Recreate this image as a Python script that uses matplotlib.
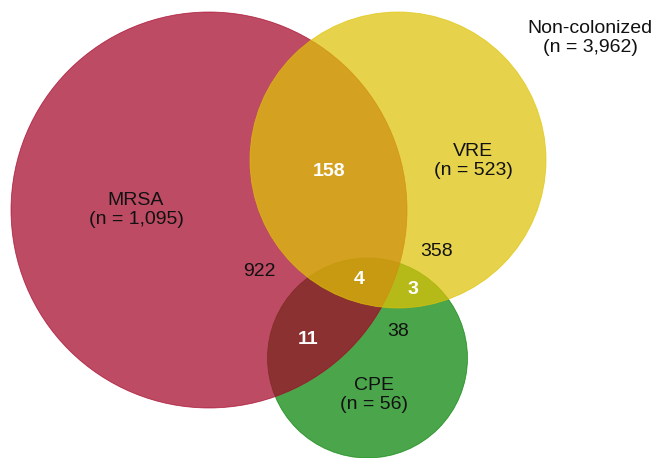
import matplotlib.pyplot as plt
from matplotlib.patches import Circle

# groups and counts
groups = ['MRSA', 'VRE', 'CPE']
group_n = ['1,095', '523', '56']
non_colonized_n = '3,962'

# region counts: only MRSA, MRSA&VRE, only VRE, MRSA&VRE&CPE, VRE&CPE, MRSA&CPE, only CPE
region_keys = ['M', 'MV', 'V', 'MVC', 'VC', 'MC', 'C']
region_counts = [922, 158, 358, 4, 3, 11, 38]


def main():
    plt.rcParams['font.family'] = ['Liberation Sans', 'DejaVu Sans']
    fig = plt.figure(figsize=(6.55, 4.58), dpi=100)
    ax = fig.add_axes([0, 0, 1, 1])
    ax.set_xlim(0, 655)
    ax.set_ylim(458, 0)
    ax.set_aspect('equal')
    ax.axis('off')

    # circle layout (pixel units), drawing order green -> red -> yellow
    layout = {
        'CPE': ((367.5, 358), 100, '#068306', 1),
        'MRSA': ((209, 210), 198, '#A50528', 2),
        'VRE': ((398, 160), 148, '#DFC306', 3),
    }
    for name in groups:
        (cx, cy), r, col, z = layout[name]
        ax.add_patch(Circle((cx, cy), r, facecolor=col, edgecolor=col,
                            alpha=0.72, lw=0.6, zorder=z))

    fs = 14
    label_pos = {'MRSA': (136, 210), 'VRE': (473, 161), 'CPE': (374, 395)}
    for name, n in zip(groups, group_n):
        x, y = label_pos[name]
        ax.text(x, y, f'{name}\n(n = {n})', ha='center', va='center',
                fontsize=fs, color='#111111', linespacing=1.2, zorder=5)

    ax.text(590, 38, f'Non-colonized\n(n = {non_colonized_n})',
            ha='center', va='center', fontsize=fs, color='#111111',
            linespacing=1.2, zorder=5)

    region_pos = {
        'M': (259, 272), 'MV': (329, 172), 'V': (437, 252),
        'MVC': (359, 280), 'VC': (413, 289), 'MC': (308, 340),
        'C': (398, 331),
    }
    white = ['MV', 'MVC', 'VC', 'MC']
    for key, cnt in zip(region_keys, region_counts):
        x, y = region_pos[key]
        if key in white:
            ax.text(x, y, str(cnt), ha='center', va='center', fontsize=fs,
                    color='white', fontweight='bold', zorder=5)
        else:
            ax.text(x, y, str(cnt), ha='center', va='center', fontsize=fs,
                    color='#111111', zorder=5)

    fig.savefig('out.png', dpi=100, facecolor='white')


if __name__ == "__main__":
    main()
